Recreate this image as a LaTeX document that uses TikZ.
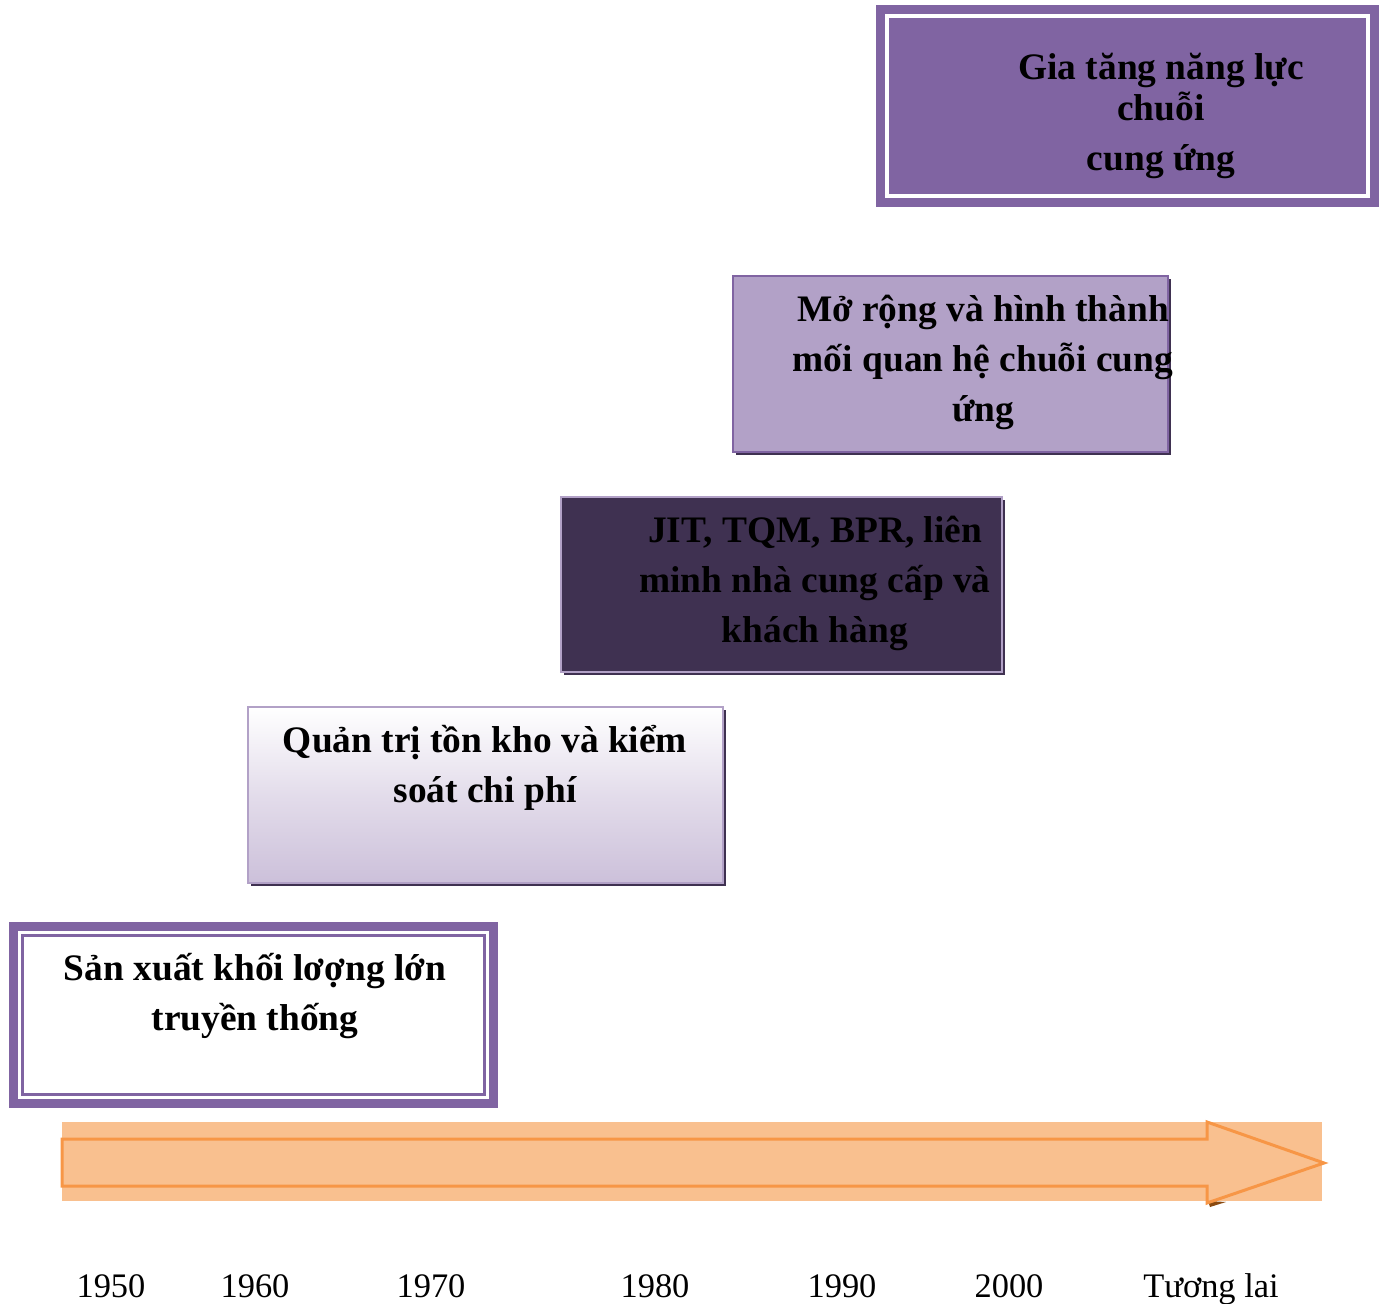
\documentclass[tikz,border=0pt]{standalone}
\usepackage{fontspec}
\setmainfont{Liberation Serif}
\usepackage{xcolor}
\usepackage{tikz}

\definecolor{stagepurple}{HTML}{8064A2}
\definecolor{stagelilac}{HTML}{B2A1C7}
\definecolor{stagedark}{HTML}{3F3151}
\definecolor{stagepale}{HTML}{CCC0DA}
\definecolor{arroworange}{HTML}{F79646}
\definecolor{arrowfill}{HTML}{F9C08F}
\definecolor{tipbrown}{HTML}{8A4A10}

\begin{document}
\begin{tikzpicture}[x=0.5pt,y=-0.5pt,
    boxtext/.style={align=center,inner sep=0pt,font=\fontsize{18.7}{25}\selectfont\bfseries},
    yeartext/.style={anchor=base,inner sep=0pt,font=\fontsize{17.2}{22}\selectfont}]

    \useasboundingbox (0,0) rectangle (1382,1304);

    % stage 5 (top)
    \fill[stagepurple] (876,5) rectangle (1379,207);
    \draw[white,line width=2pt] (887,16) rectangle (1368,196);
    \node[boxtext] (future) at (1161,116) {Gia tăng năng lực\\[-4.5pt] chuỗi\\ cung ứng};

    % stage 4
    \fill[stagedark] (736,279) rectangle (1171,455);
    \draw[stagepurple,line width=1pt,fill=stagelilac] (733,276) rectangle (1168,452);
    \node[boxtext] (expand) at (983,362) {Mở rộng và hình thành\\ mối quan hệ chuỗi cung\\ ứng};

    % stage 3
    \fill[stagedark] (564,500) rectangle (1005,675);
    \draw[stagelilac,line width=1.2pt,fill=stagedark] (561,497) rectangle (1002,672);
    \node[boxtext] (jit) at (815,583) {JIT, TQM, BPR, liên\\ minh nhà cung cấp và\\ khách hàng};

    % stage 2
    \fill[stagedark] (251,710) rectangle (726,886);
    \shade[top color=white,bottom color=stagepale,middle color=stagepale!55] (248,707) rectangle (723,883);
    \draw[stagelilac,line width=1pt] (248,707) rectangle (723,883);
    \node[boxtext] (inventory) at (485,768) {Quản trị tồn kho và kiểm\\ soát chi phí};

    % stage 1
    \fill[stagepurple] (9,922) rectangle (498,1108);
    \fill[white] (18,931) rectangle (489,1099);
    \draw[stagepurple,line width=1.5pt] (22.5,935.5) rectangle (484.5,1094.5);
    \node[boxtext] (mass) at (255,996) {Sản xuất khối lơợng lớn\\ truyền thống};

    % time arrow
    \fill[arrowfill] (62,1122) rectangle (1322,1201);
    \fill[tipbrown] (1208,1201) -- (1226,1202) -- (1210,1207) -- cycle;
    \draw[arroworange,line width=1.5pt,fill=arrowfill,line join=miter]
        (62,1139) -- (1207,1139) -- (1207,1122) -- (1324,1163)
        -- (1207,1203) -- (1207,1186) -- (62,1186) -- cycle;

    % years
    \node[yeartext] (y1950) at (111,1297) {1950};
    \node[yeartext] (y1960) at (255,1297) {1960};
    \node[yeartext] (y1970) at (431,1297) {1970};
    \node[yeartext] (y1980) at (655,1297) {1980};
    \node[yeartext] (y1990) at (842,1297) {1990};
    \node[yeartext] (y2000) at (1009,1297) {2000};
    \node[yeartext] (ylater) at (1211,1297) {Tương lai};

\end{tikzpicture}
\end{document}
